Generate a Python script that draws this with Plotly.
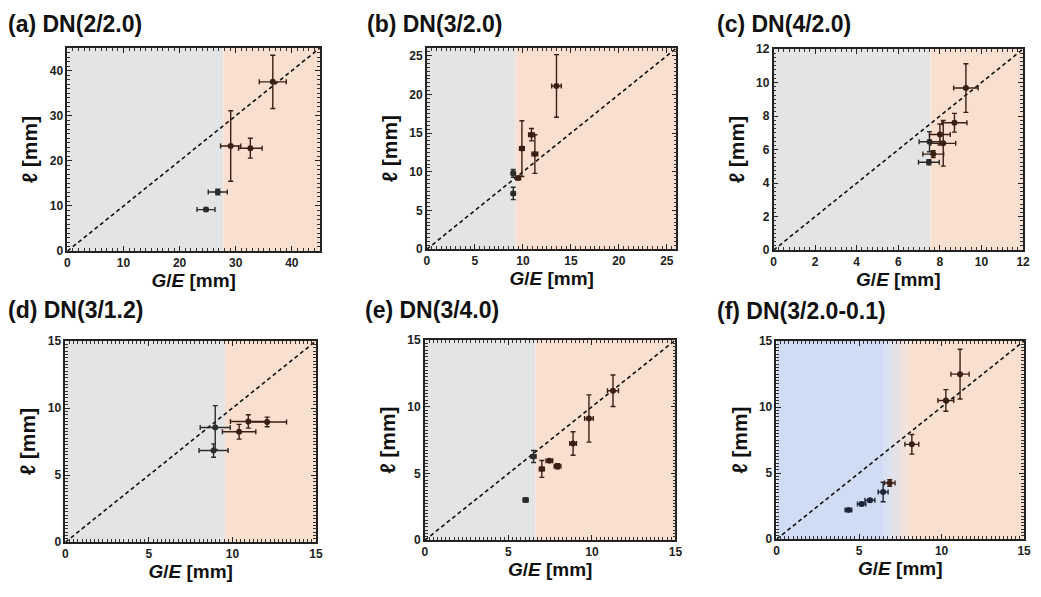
import plotly.graph_objects as go

# ---------------- data ----------------
titles = ["(a) DN(2/2.0)", "(b) DN(3/2.0)", "(c) DN(4/2.0)",
          "(d) DN(3/1.2)", "(e) DN(3/4.0)", "(f) DN(3/2.0-0.1)"]
axis_max = [45, 26, 12, 15, 15, 15]
major_dtick = [10, 5, 2, 5, 5, 5]
minor_dtick = [1, 0.5, 0.25, 0.25, 0.25, 0.25]
boundary = [27.8, 9.25, 7.55, 9.55, 6.62, 6.5]
gradient_end = [None, None, None, None, None, 8.15]

a_x = [24.7, 26.8, 29.1, 32.6, 36.6]
a_xe = [1.6, 1.7, 1.8, 2.1, 2.4]
a_y = [9.2, 13.1, 23.3, 22.8, 37.5]
a_ye = [0.3, 0.6, 7.8, 2.2, 5.9]

b_x = [9.0, 9.0, 9.5, 9.9, 10.9, 11.25, 13.5]
b_xe = [0.2, 0.2, 0.25, 0.25, 0.3, 0.3, 0.5]
b_y = [7.2, 9.8, 9.2, 13.0, 14.8, 12.3, 21.1]
b_ye = [0.8, 0.5, 0.2, 3.6, 0.8, 2.5, 4.05]

c_x = [7.47, 7.68, 7.5, 8.0, 8.16, 8.7, 9.25]
c_xe = [0.5, 0.5, 0.5, 0.5, 0.6, 0.6, 0.59]
c_y = [5.24, 5.73, 6.47, 6.9, 6.37, 7.6, 9.67]
c_ye = [0.15, 0.2, 0.6, 0.63, 1.36, 0.56, 1.45]

d_x = [8.97, 8.87, 10.4, 10.95, 12.08]
d_xe = [0.9, 0.87, 1.0, 1.07, 1.16]
d_y = [8.55, 6.83, 8.23, 9.0, 8.96]
d_ye = [1.63, 0.5, 0.55, 0.5, 0.36]

e_x = [6.03, 6.5, 7.0, 7.45, 7.94, 8.87, 9.82, 11.26]
e_xe = [0.15, 0.15, 0.15, 0.2, 0.2, 0.2, 0.26, 0.33]
e_y = [3.02, 6.27, 5.34, 5.95, 5.54, 7.24, 9.12, 11.2]
e_ye = [0.15, 0.45, 0.63, 0.1, 0.2, 0.88, 1.77, 1.18]

f_x = [4.36, 5.16, 5.66, 6.46, 6.86, 8.2, 10.26, 11.12]
f_xe = [0.2, 0.25, 0.3, 0.3, 0.32, 0.42, 0.48, 0.55]
f_y = [2.21, 2.66, 2.95, 3.57, 4.25, 7.18, 10.5, 12.49]
f_ye = [0.1, 0.12, 0.12, 0.74, 0.25, 0.74, 0.82, 1.88]

panels = [(a_x, a_xe, a_y, a_ye), (b_x, b_xe, b_y, b_ye), (c_x, c_xe, c_y, c_ye),
          (d_x, d_xe, d_y, d_ye), (e_x, e_xe, e_y, e_ye), (f_x, f_xe, f_y, f_ye)]

# ---------------- layout / style ----------------
W, H = 1041, 597
# plot-area pixel boxes (left, top, right, bottom)
boxes = [(65, 42, 320, 250), (428, 42, 680, 248), (778, 43, 1030, 249),
         (63, 342, 316, 548), (426, 341, 679, 546), (781, 342, 1031, 545)]
title_pos = [(3, 17), (366, 17), (719, 17), (3, 310), (363, 310), (719, 311)]

GREY = "#e4e4e4"
ORANGE = "#f8dfcf"
BLUE = "#cfdcf3"
left_col = ["#2b2b2b"] * 5 + ["#1c2438"]
right_col = "#3a2014"
FONT = "Liberation Sans, Arial, sans-serif"

fig = go.Figure()
shapes = []
annotations = []


def mix(c1, c2, t):
    a = [int(c1[i:i + 2], 16) for i in (1, 3, 5)]
    b = [int(c2[i:i + 2], 16) for i in (1, 3, 5)]
    return "rgb(%d,%d,%d)" % tuple(round(a[k] + (b[k] - a[k]) * t) for k in range(3))


for i, (xs, xes, ys, yes) in enumerate(panels):
    n = i + 1
    xa = "x" if n == 1 else f"x{n}"
    ya = "y" if n == 1 else f"y{n}"
    l, t, r, b = boxes[i]
    m = axis_max[i]
    bnd = boundary[i]
    left_bg = BLUE if i == 5 else GREY

    # background regions
    if gradient_end[i] is None:
        shapes.append(dict(type="rect", xref=xa, yref=f"{ya} domain", x0=0, x1=bnd, y0=0, y1=1,
                           fillcolor=left_bg, line_width=0, layer="below"))
        shapes.append(dict(type="rect", xref=xa, yref=f"{ya} domain", x0=bnd, x1=m, y0=0, y1=1,
                           fillcolor=ORANGE, line_width=0, layer="below"))
    else:
        g1 = gradient_end[i]
        shapes.append(dict(type="rect", xref=xa, yref=f"{ya} domain", x0=0, x1=bnd, y0=0, y1=1,
                           fillcolor=left_bg, line_width=0, layer="below"))
        steps = 40
        for k in range(steps):
            x0 = bnd + (g1 - bnd) * k / steps
            x1 = bnd + (g1 - bnd) * (k + 1) / steps + 0.01
            shapes.append(dict(type="rect", xref=xa, yref=f"{ya} domain", x0=x0, x1=x1, y0=0, y1=1,
                               fillcolor=mix(left_bg, ORANGE, (k + 0.5) / steps),
                               line_width=0, layer="below"))
        shapes.append(dict(type="rect", xref=xa, yref=f"{ya} domain", x0=g1, x1=m, y0=0, y1=1,
                           fillcolor=ORANGE, line_width=0, layer="below"))

    # diagonal dashed line
    fig.add_trace(go.Scatter(x=[0, m], y=[0, m], mode="lines", xaxis=xa, yaxis=ya,
                             line=dict(color="#111111", width=1.6, dash="4px,3px"),
                             showlegend=False, hoverinfo="skip"))

    # points split by region
    for side in ("L", "R"):
        idx = [k for k in range(len(xs)) if (xs[k] < bnd) == (side == "L")]
        if not idx:
            continue
        col = left_col[i] if side == "L" else right_col
        fig.add_trace(go.Scatter(
            x=[xs[k] for k in idx], y=[ys[k] for k in idx], mode="markers",
            xaxis=xa, yaxis=ya, showlegend=False,
            marker=dict(color=col, size=6),
            error_x=dict(type="data", array=[xes[k] for k in idx], color=col, thickness=1.4, width=2.5),
            error_y=dict(type="data", array=[yes[k] for k in idx], color=col, thickness=1.4, width=2.5),
        ))

    axis_common = dict(
        range=[0, m], showgrid=False, zeroline=False, showline=True, linecolor="#222222",
        linewidth=1.6, mirror="allticks", ticks="inside", ticklen=5, tickwidth=1.3,
        tickcolor="#222222", dtick=major_dtick[i], tick0=0,
        minor=dict(ticks="inside", ticklen=3, tickwidth=1, tickcolor="#333333",
                   dtick=minor_dtick[i], showgrid=False),
        tickfont=dict(family=FONT, size=12, color="#222222", weight="bold"),
    )
    fig.layout[("xaxis" if n == 1 else f"xaxis{n}")] = dict(
        axis_common, anchor=ya, domain=[l / W, r / W],
        title=dict(text="<i>G</i>/<i>E</i> [mm]", standoff=2,
                   font=dict(family=FONT, size=19, color="#111111", weight="bold")))
    fig.layout[("yaxis" if n == 1 else f"yaxis{n}")] = dict(
        axis_common, anchor=xa, domain=[1 - b / H, 1 - t / H],
        title=dict(text="\u2113 [mm]", standoff=6,
                   font=dict(family=FONT, size=21, color="#111111", weight="bold")))

    tx, ty = title_pos[i]
    annotations.append(dict(text=titles[i], xref="paper", yref="paper", x=tx / W, y=1 - ty / H,
                            xanchor="left", yanchor="middle", showarrow=False,
                            font=dict(family=FONT, size=23, color="#111111", weight="bold")))

fig.update_layout(width=W, height=H, margin=dict(l=0, r=0, t=0, b=0),
                  paper_bgcolor="white", plot_bgcolor="white",
                  shapes=shapes, annotations=annotations)

fig.write_html("out.html")
